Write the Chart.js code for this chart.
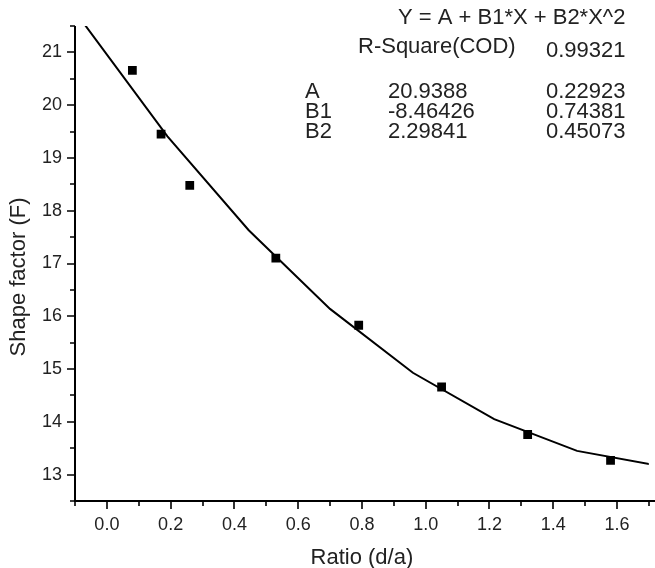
<!DOCTYPE html>
<html>
<head>
<meta charset="utf-8">
<script src="https://cdn.jsdelivr.net/npm/chart.js@4.4.1/dist/chart.umd.min.js"></script>
<style>
  html, body { margin: 0; padding: 0; background: #fff; }
</style>
</head>
<body>
<canvas id="chart" width="655" height="568"></canvas>
<script>
// measured points
const ratioX = [0.08, 0.17, 0.26, 0.53, 0.79, 1.05, 1.32, 1.58];
const shapeF = [20.66, 19.45, 18.48, 17.10, 15.83, 14.66, 13.76, 13.27];

// fitted curve, vertices
const fitX = [-0.07, 0.19, 0.445, 0.70, 0.96, 1.215, 1.475, 1.73];
const fitY = [21.53, 19.41, 17.63, 16.14, 14.93, 14.05, 13.45, 13.17];

// axis ticks
const xTicks = [0.0, 0.2, 0.4, 0.6, 0.8, 1.0, 1.2, 1.4, 1.6];
const xMinorTicks = [-0.1, 0.1, 0.3, 0.5, 0.7, 0.9, 1.1, 1.3, 1.5, 1.7];
const yTicks = [13, 14, 15, 16, 17, 18, 19, 20, 21];
const yMinorTicks = [12.5, 13.5, 14.5, 15.5, 16.5, 17.5, 18.5, 19.5, 20.5, 21.5];

// fit report
const fitEquation = 'Y = A + B1*X + B2*X^2';
const rSquareLabel = 'R-Square(COD)';
const rSquareValue = '0.99321';
const paramNames = ['A', 'B1', 'B2'];
const paramValues = ['20.9388', '-8.46426', '2.29841'];
const paramErrors = ['0.22923', '0.74381', '0.45073'];

const yAxisTitle = 'Shape factor (F)';
const textColor = '#222';
const fontFamily = '"Liberation Sans", Arial, sans-serif';

// axis lines + major/minor ticks, Origin style
const originAxes = {
    id: 'originAxes',
    afterDatasetsDraw(chart) {
        const ctx = chart.ctx;
        const area = chart.chartArea;
        const xs = chart.scales.x;
        const ys = chart.scales.y;
        ctx.save();
        ctx.strokeStyle = '#000';
        ctx.lineWidth = 2;
        ctx.beginPath();
        ctx.moveTo(area.left, area.top);
        ctx.lineTo(area.left, area.bottom);
        ctx.lineTo(chart.width, area.bottom);
        ctx.stroke();

        ctx.lineWidth = 1.6;
        ctx.beginPath();
        xTicks.forEach(v => {
            const px = Math.round(xs.getPixelForValue(v));
            ctx.moveTo(px, area.bottom);
            ctx.lineTo(px, area.bottom + 8);
        });
        xMinorTicks.forEach(v => {
            const px = Math.round(xs.getPixelForValue(v));
            ctx.moveTo(px, area.bottom);
            ctx.lineTo(px, area.bottom + 5);
        });
        yTicks.forEach(v => {
            const py = Math.round(ys.getPixelForValue(v));
            ctx.moveTo(area.left, py);
            ctx.lineTo(area.left - 8, py);
        });
        yMinorTicks.forEach(v => {
            const py = Math.round(ys.getPixelForValue(v));
            ctx.moveTo(area.left, py);
            ctx.lineTo(area.left - 5, py);
        });
        ctx.stroke();
        ctx.restore();
    },
    afterDraw(chart) {
        const ctx = chart.ctx;
        ctx.save();
        ctx.fillStyle = textColor;
        ctx.font = '22px ' + fontFamily;
        ctx.textBaseline = 'middle';
        ctx.textAlign = 'left';
        ctx.fillText(fitEquation, 398, 18);
        ctx.fillText(rSquareLabel, 358, 47);
        ctx.fillText(rSquareValue, 546, 51);
        paramNames.forEach((name, i) => {
            const y = 92 + i * 20;
            ctx.fillText(name, 305, y);
            ctx.fillText(paramValues[i], 388, y);
            ctx.fillText(paramErrors[i], 546, y);
        });

        // y title sits a bit below the middle of the axis in the original
        ctx.translate(19, 277);
        ctx.rotate(-Math.PI / 2);
        ctx.textAlign = 'center';
        ctx.fillText(yAxisTitle, 0, 0);
        ctx.restore();
    }
};

const pointData = ratioX.map((x, i) => ({ x: x, y: shapeF[i] }));
const fitData = fitX.map((x, i) => ({ x: x, y: fitY[i] }));

new Chart(document.getElementById('chart'), {
    type: 'scatter',
    data: {
        datasets: [
            {
                label: 'Shape factor',
                data: pointData,
                pointStyle: 'rect',
                pointRadius: 6.2,
                pointBorderWidth: 0,
                backgroundColor: '#000',
                borderColor: '#000'
            },
            {
                label: 'Polynomial fit',
                data: fitData,
                showLine: true,
                tension: 0,
                pointRadius: 0,
                borderColor: '#000',
                borderWidth: 2
            }
        ]
    },
    plugins: [originAxes],
    options: {
        responsive: false,
        animation: false,
        layout: { padding: { top: 26, right: 1, left: 0, bottom: 0 } },
        plugins: {
            legend: { display: false },
            tooltip: { enabled: false }
        },
        scales: {
            x: {
                type: 'linear',
                min: -0.1,
                max: 1.7,
                afterBuildTicks: scale => { scale.ticks = xTicks.map(v => ({ value: v })); },
                afterFit: scale => { scale.height = 67; },
                grid: { display: true, drawOnChartArea: false, drawTicks: true, tickLength: 8, color: 'transparent' },
                border: { display: false },
                ticks: {
                    padding: 5,
                    color: textColor,
                    font: { family: fontFamily, size: 18 },
                    callback: v => Number(v).toFixed(1)
                },
                title: {
                    display: true,
                    text: 'Ratio (d/a)',
                    color: textColor,
                    font: { family: fontFamily, size: 22 },
                    padding: { top: 0, bottom: -3 }
                }
            },
            y: {
                type: 'linear',
                min: 12.5,
                max: 21.5,
                afterBuildTicks: scale => { scale.ticks = yTicks.map(v => ({ value: v })); },
                afterFit: scale => { scale.width = 75; },
                grid: { display: true, drawOnChartArea: false, drawTicks: true, tickLength: 8, color: 'transparent' },
                border: { display: false },
                ticks: {
                    padding: 5,
                    color: textColor,
                    font: { family: fontFamily, size: 18 },
                    callback: v => String(v)
                }
            }
        }
    }
});
</script>
</body>
</html>
